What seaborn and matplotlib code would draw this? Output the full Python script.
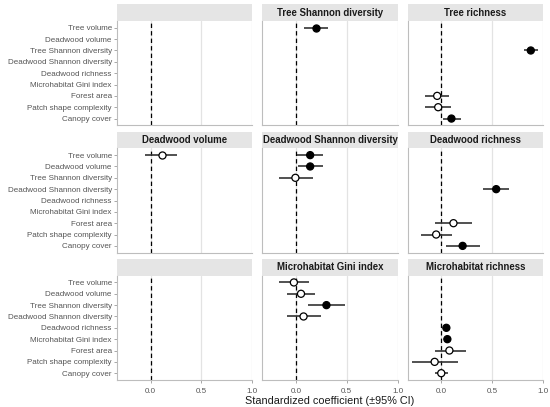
import pandas as pd
import seaborn as sns
import matplotlib.pyplot as plt
from matplotlib.patches import Rectangle

# Predictors shown on the y axis (top to bottom)
predictors = ['Tree volume', 'Deadwood volume', 'Tree Shannon diversity',
              'Deadwood Shannon diversity', 'Deadwood richness',
              'Microhabitat Gini index', 'Forest area',
              'Patch shape complexity', 'Canopy cover']

# Facet order (blank names are empty panels)
panels = ['', 'Tree Shannon diversity', 'Tree richness',
          'Deadwood volume', 'Deadwood Shannon diversity', 'Deadwood richness',
          ' ', 'Microhabitat Gini index', 'Microhabitat richness']

# Path coefficients
response = ['Tree Shannon diversity',
            'Tree richness', 'Tree richness', 'Tree richness', 'Tree richness',
            'Deadwood volume',
            'Deadwood Shannon diversity', 'Deadwood Shannon diversity', 'Deadwood Shannon diversity',
            'Deadwood richness', 'Deadwood richness', 'Deadwood richness', 'Deadwood richness',
            'Microhabitat Gini index', 'Microhabitat Gini index', 'Microhabitat Gini index',
            'Microhabitat Gini index',
            'Microhabitat richness', 'Microhabitat richness', 'Microhabitat richness',
            'Microhabitat richness', 'Microhabitat richness']
predictor = ['Tree volume',
             'Tree Shannon diversity', 'Forest area', 'Patch shape complexity', 'Canopy cover',
             'Tree volume',
             'Tree volume', 'Deadwood volume', 'Tree Shannon diversity',
             'Deadwood Shannon diversity', 'Forest area', 'Patch shape complexity', 'Canopy cover',
             'Tree volume', 'Deadwood volume', 'Tree Shannon diversity',
             'Deadwood Shannon diversity',
             'Deadwood richness', 'Microhabitat Gini index', 'Forest area',
             'Patch shape complexity', 'Canopy cover']
estimate = [0.20,
            0.88, -0.04, -0.03, 0.10,
            0.11,
            0.14, 0.14, -0.005,
            0.54, 0.12, -0.05, 0.21,
            -0.02, 0.05, 0.30, 0.075,
            0.05, 0.06, 0.08, -0.065, 0.00]
ci_low = [0.08,
          0.81, -0.16, -0.16, 0.02,
          -0.05,
          0.01, 0.02, -0.165,
          0.41, -0.06, -0.20, 0.05,
          -0.165, -0.09, 0.12, -0.09,
          0.015, 0.025, -0.06, -0.29, -0.06]
ci_high = [0.32,
           0.95, 0.075, 0.10, 0.19,
           0.26,
           0.27, 0.265, 0.165,
           0.67, 0.30, 0.11, 0.38,
           0.13, 0.19, 0.48, 0.25,
           0.09, 0.10, 0.24, 0.16, 0.065]
significant = [True,
               True, False, False, True,
               False,
               True, True, False,
               True, False, False, True,
               False, False, True, False,
               True, True, False, False, False]

df = pd.DataFrame({'response': response, 'predictor': predictor,
                   'estimate': estimate, 'lo': ci_low, 'hi': ci_high,
                   'sig': significant})
df['ypos'] = df['predictor'].map({p: i for i, p in enumerate(predictors)})

sns.set_theme(style='white')
plt.rcParams['font.family'] = ['Liberation Sans', 'DejaVu Sans']


def draw_coefs(data, **kws):
    ax = plt.gca()
    ax.hlines(data['ypos'], data['lo'], data['hi'], color='#333333', lw=1.2, zorder=3)
    sns.scatterplot(data=data, x='estimate', y='ypos', hue='sig',
                    palette={True: 'black', False: 'white'}, edgecolor='black',
                    linewidth=0.9, s=26, legend=False, zorder=4, ax=ax)


g = sns.FacetGrid(df, col='response', col_wrap=3, col_order=panels,
                  sharex=True, sharey=True, height=1.4, aspect=1.3)
g.map_dataframe(draw_coefs)
g.figure.set_size_inches(5.5, 4.07)
g.figure.subplots_adjust(left=117/550, right=543/550, top=1 - 21/407,
                         bottom=1 - 380/407, wspace=0.074, hspace=0.22)

for i, (ax, name) in enumerate(zip(g.axes.flat, panels)):
    ax.set_xlim(-0.33, 1.0)
    ax.set_ylim(8.6, -0.6)
    ax.axvline(0, color='black', ls=(0, (3.5, 2.5)), lw=0.9, zorder=2)
    ax.set_xticks([0.0, 0.5, 1.0])
    ax.set_yticks(range(len(predictors)))
    ax.grid(axis='x', color='#e3e3e3', lw=0.9, zorder=0)
    ax.set_axisbelow(True)
    for sp in ax.spines.values():
        sp.set_color('#bdbdbd')
        sp.set_linewidth(0.8)
    ax.tick_params(length=2.2, width=0.6, color='#999999', labelsize=5.8,
                   labelcolor='#555555', pad=1.5,
                   bottom=(i >= 6), left=(i % 3 == 0))
    ax.tick_params(axis='x', pad=3.5)
    ax.set_title('')
    ax.set_xlabel('')
    ax.set_ylabel('')
    # ggplot-like strip
    ax.add_patch(Rectangle((0, 1.0), 1, 0.16, transform=ax.transAxes,
                           facecolor='#e5e5e5', edgecolor='none', clip_on=False))
    ax.text(0.5, 1.08, name.strip(), transform=ax.transAxes, ha='center', va='center',
            fontsize=6.9, fontweight='bold', color='#1a1a1a')

for ax in g.axes.flat[::3]:
    ax.set_yticklabels(predictors)

g.figure.text((117 + 543) / 2 / 550, 1 - 401 / 407, 'Standardized coefficient (±95% CI)',
              ha='center', va='center', fontsize=7.8, color='#1a1a1a')

plt.savefig('out.png', dpi=100)
